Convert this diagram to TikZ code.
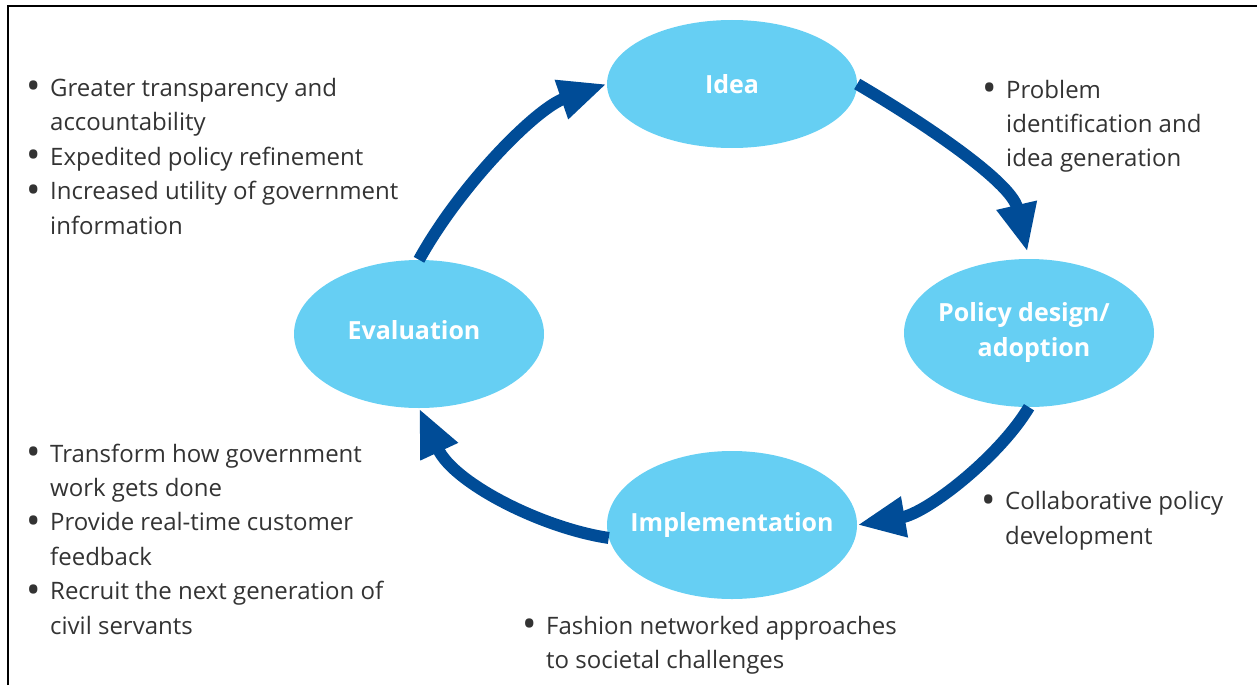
\documentclass[tikz,border=0pt]{standalone}
\usepackage{fontspec}
\usepackage{graphicx}
\setmainfont{Open Sans}
\usetikzlibrary{shapes.geometric,arrows.meta}
\definecolor{ellblue}{HTML}{66CFF3}
\definecolor{arrblue}{HTML}{004C97}
\definecolor{txt}{HTML}{333333}
\newcommand{\bul}{\llap{\smash{\raisebox{-3.5pt}{\scalebox{1.6}{\textbullet}}}\hspace{9pt}}}
\begin{document}
\begin{tikzpicture}[x=1pt,y=-1pt,
  stage/.style={ellipse, fill=ellblue, draw=none, minimum width=250pt, minimum height=148pt, inner sep=0pt, text=white, font=\fontsize{25}{35}\selectfont\bfseries, align=center},
  flow/.style={draw=arrblue, line width=12pt, -{Triangle[length=48pt,width=38pt]}},
  blist/.style={anchor=base west, inner sep=0pt, align=left, text=txt, font=\fontsize{24}{34.4}\selectfont}]
\useasboundingbox (0,0) rectangle (1257,685);
\draw[line width=2pt] (8,685) -- (8,6) -- (1257,6);

\node[stage, minimum height=128pt] (idea) at (732,84) {Idea};
\node[stage] (eval) at (419,334) {\raisebox{8pt}{Evaluation}\rule{10pt}{0pt}};
\node[stage, inner xsep=-12pt] (pol) at (1029,333) {Policy design/\rule{10pt}{0pt}\\\rule{10pt}{0pt}adoption};
\node[stage, inner xsep=-20pt] (impl) at (732,525) {Implementation};

\draw[flow] (eval.north) .. controls +(42,-76) and +(-70,24) .. (idea.west);
\draw[flow, shorten >=7pt] (idea.east) .. controls +(60,35) and +(-18,-78) .. (pol.north);
\draw[flow] (pol.south) .. controls +(-30,50) and +(70,-12) .. (impl.east);
\draw[flow] (impl.186) .. controls +(-67,-10) and +(35,75) .. (eval.south);

\node[blist] (tl) at (50,234) {\bul Greater transparency and\\accountability\\\bul Expedited policy refinement\\\bul Increased utility of government\\information};
\node[blist] (tr) at (1006,166.8) {\bul Problem\\identification and\\idea generation};
\node[blist] (bl) at (50,634) {\bul Transform how government\\work gets done\\\bul Provide real-time customer\\feedback\\\bul Recruit the next generation of\\civil servants};
\node[blist] (br) at (1005,544) {\bul Collaborative policy\\development};
\node[blist] (bc) at (546,668.4) {\bul Fashion networked approaches\\to societal challenges};
\end{tikzpicture}
\end{document}
